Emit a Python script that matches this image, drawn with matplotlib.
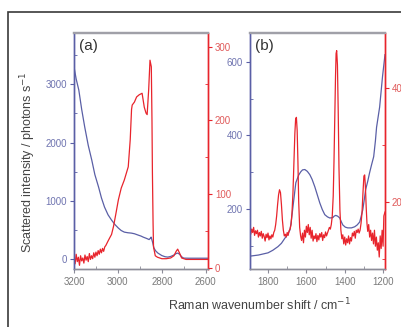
import numpy as np
import matplotlib
matplotlib.use("Agg")
import matplotlib.pyplot as plt
from matplotlib.ticker import MultipleLocator
from matplotlib.patches import Rectangle

plt.rcParams['font.family'] = ['Liberation Sans', 'DejaVu Sans']

#### colours ####
blue = '#5a5fa6'
red = '#e8242c'
blue_txt = '#6f74b0'
red_txt = '#e05a5a'
grey = '#8c8c98'

#### panel (a) : CH stretch region ####

a_blue_wn = [3200, 3190, 3178, 3165, 3151, 3135, 3119, 3105, 3088, 3075, 3061, 3045,
             3029, 3013, 2998, 2985, 2971, 2955, 2939, 2925, 2908, 2895, 2885, 2870,
             2858, 2852, 2849, 2843, 2836, 2828, 2818, 2800, 2785, 2773, 2760, 2745,
             2735, 2728, 2720, 2710, 2701, 2680, 2640, 2585]
a_blue = [3300, 3090, 2900, 2570, 2264, 1950, 1698, 1450, 1235, 1050, 892, 760,
          669, 590, 532, 490, 463, 452, 446, 435, 412, 395, 377, 355,
          335, 360, 377, 300, 189, 140, 103, 60, 40, 34, 45, 70,
          95, 103, 85, 40, 17, 15, 15, 15]

a_red_wn = [3200, 3195, 3190, 3185, 3180, 3175, 3170, 3165, 3160, 3155, 3150, 3145,
            3140, 3135, 3130, 3125, 3120, 3115, 3110, 3105, 3100, 3095, 3090, 3085,
            3080, 3075, 3070, 3065, 3060, 3055, 3045, 3038, 3029, 3020, 3010, 2998,
            2985, 2971, 2960, 2953, 2944, 2938, 2935, 2925, 2915, 2903, 2890, 2880,
            2872, 2867, 2860, 2854, 2848, 2845, 2843, 2840, 2838, 2830, 2820,
            2800, 2780, 2760, 2745, 2735, 2728, 2720, 2710, 2690, 2660, 2620, 2585]
a_red = [12, 5, 18, 8, 14, 3, 16, 9, 13, 6, 17, 10,
         15, 8, 19, 11, 16, 12, 20, 14, 21, 16, 23, 18,
         25, 20, 26, 22, 28, 30, 36, 40, 45, 56, 72, 92,
         108, 119, 130, 137, 174, 215, 221, 225, 232, 235, 237, 218,
         210, 208, 242, 282, 273, 200, 129, 60, 28, 16, 14,
         12, 12, 13, 16, 22, 25, 20, 13, 11, 11, 11, 11]

#### panel (b) : fingerprint region ####

b_blue_wn = [1894, 1850, 1800, 1775, 1748, 1730, 1712, 1700, 1686, 1680, 1670, 1662,
             1655, 1640, 1629, 1620, 1608, 1595, 1582, 1570, 1556, 1543, 1530, 1517,
             1504, 1490, 1478, 1462, 1455, 1447, 1437, 1426, 1418, 1410, 1397, 1384,
             1365, 1348, 1335, 1322, 1315, 1306, 1298, 1291, 1280, 1270, 1260, 1249,
             1240, 1234, 1218, 1203, 1190]
b_blue = [71, 74, 80, 87, 97, 106, 120, 128, 142, 160, 205, 240,
          271, 292, 301, 306, 307, 302, 293, 280, 260, 238, 216, 198,
          184, 178, 175, 176, 180, 182, 180, 175, 165, 156, 150, 148,
          148, 151, 156, 164, 178, 197, 225, 252, 275, 299, 320, 342,
          385, 422, 477, 560, 620]

b_red_wn = [1895, 1890, 1885, 1880, 1875, 1870, 1865, 1860, 1855, 1850, 1845, 1840,
            1835, 1830, 1825, 1820, 1815, 1810, 1805, 1800, 1795, 1790, 1785, 1780,
            1775, 1770, 1765, 1760, 1755, 1750, 1745, 1740, 1735, 1730, 1725, 1720,
            1715, 1710, 1705, 1700, 1695, 1690, 1685, 1680, 1675, 1670, 1665, 1660,
            1656, 1652, 1648, 1644, 1640, 1635, 1630, 1625, 1620, 1615, 1610, 1605,
            1600, 1595, 1590, 1585, 1580, 1575, 1570, 1565, 1560, 1555, 1550, 1545,
            1540, 1535, 1530, 1525, 1520, 1515, 1510, 1505, 1500, 1495, 1490, 1485,
            1480, 1475, 1470, 1465, 1460, 1456, 1452, 1448, 1445, 1442, 1438, 1434,
            1430, 1425, 1420, 1415, 1410, 1405, 1400, 1395, 1390, 1385, 1380, 1375,
            1370, 1365, 1360, 1355, 1350, 1345, 1340, 1335, 1330, 1325, 1320, 1315,
            1310, 1305, 1300, 1296, 1292, 1288, 1284, 1280, 1275, 1270, 1265, 1260,
            1255, 1250, 1245, 1240, 1235, 1230, 1225, 1220, 1215, 1210, 1205, 1200,
            1196, 1190]
b_red = [150, 143, 152, 146, 155, 141, 149, 144, 150, 138, 146, 140,
         148, 136, 144, 139, 131, 143, 137, 145, 133, 140, 135, 142,
         138, 146, 150, 160, 175, 195, 212, 221, 216, 195, 168, 150,
         140, 143, 138, 146, 141, 149, 152, 160, 180, 215, 265, 320,
         345, 348, 325, 270, 200, 155, 140, 132, 145, 128, 150, 138,
         157, 146, 160, 142, 155, 136, 150, 131, 140, 135, 144, 130,
         141, 133, 144, 138, 146, 132, 142, 137, 147, 140, 145, 150,
         155, 152, 160, 175, 210, 270, 350, 420, 460, 465, 440, 360,
         260, 185, 150, 135, 142, 126, 138, 124, 135, 128, 140, 126,
         137, 131, 145, 140, 148, 136, 150, 146, 152, 145, 150, 162,
         180, 215, 245, 247, 225, 190, 162, 148, 160, 138, 150, 132,
         145, 126, 150, 122, 138, 115, 128, 103, 140, 118, 150, 122,
         175, 182]


### Build one panel: blue on the left axis, red on the right ###

def panel(rect, xw, xb, yw, yr, xlim, blim, rlim, xmaj, bmaj, rmaj, tag):

    ax = fig.add_axes(rect)
    axr = ax.twinx()

    ax.plot(xw, xb, color=blue, lw=0.9)
    axr.plot(yw, yr, color=red, lw=0.9)

    ax.set_xlim(xlim)
    ax.set_ylim(blim)
    axr.set_ylim(rlim)

    ax.xaxis.set_major_locator(MultipleLocator(xmaj))
    ax.xaxis.set_minor_locator(MultipleLocator(xmaj/2))
    ax.yaxis.set_major_locator(MultipleLocator(bmaj))
    ax.yaxis.set_minor_locator(MultipleLocator(bmaj/2))
    axr.yaxis.set_major_locator(MultipleLocator(rmaj))
    axr.yaxis.set_minor_locator(MultipleLocator(rmaj/2))

    for a in (ax, axr):
        for s in a.spines.values():
            s.set_linewidth(1.0)
        a.spines['top'].set_color('#a0a0a8')
        a.spines['top'].set_linewidth(1.6)
        a.spines['bottom'].set_color(grey)
        a.spines['left'].set_color(blue)
        a.spines['right'].set_color(red)

    ax.tick_params(axis='x', which='major', direction='out', length=3,
                   color=grey, labelcolor='#7a7a7a', labelsize=7, pad=3)
    ax.tick_params(axis='x', which='minor', direction='in', length=2, color=grey)
    ax.tick_params(axis='y', which='major', direction='out', length=3,
                   color=blue, labelcolor=blue_txt, labelsize=7, pad=2)
    ax.tick_params(axis='y', which='minor', direction='in', length=2, color=blue)
    axr.tick_params(axis='y', which='major', direction='out', length=3,
                    color=red, labelcolor=red_txt, labelsize=7, pad=2)
    axr.tick_params(axis='y', which='minor', direction='in', length=2, color=red)

    ax.text(0.035, 0.975, tag, transform=ax.transAxes, fontsize=11,
            color='#333333', va='top', ha='left')
    return ax, axr


fig = plt.figure(figsize=(4.01, 3.27), dpi=100)

# outer frame, cut by the picture edges
fig.add_artist(Rectangle((0.02, -0.2), 1.2, 1.163, transform=fig.transFigure,
                         fill=False, edgecolor='#3a3a3a', lw=1.2))

panel([0.1845, 0.1774, 0.3342, 0.7217], a_blue_wn, a_blue, a_red_wn, a_red,
      (3200, 2590), (-170, 3880), (-2, 319), 200, 1000, 100, '(a)')
panel([0.6234, 0.1774, 0.3367, 0.7217], b_blue_wn, b_blue, b_red_wn, b_red,
      (1894, 1190), (36, 679), (82, 496), 200, 200, 200, '(b)')

fig.text(0.07, 0.504, 'Scattered intensity / photons s$^{-1}$', rotation=90,
         ha='center', va='center', fontsize=9, color='#444444')
fig.text(0.648, 0.067, 'Raman wavenumber shift / cm$^{-1}$',
         ha='center', va='center', fontsize=9, color='#444444')

plt.savefig('out.png', dpi=100)
